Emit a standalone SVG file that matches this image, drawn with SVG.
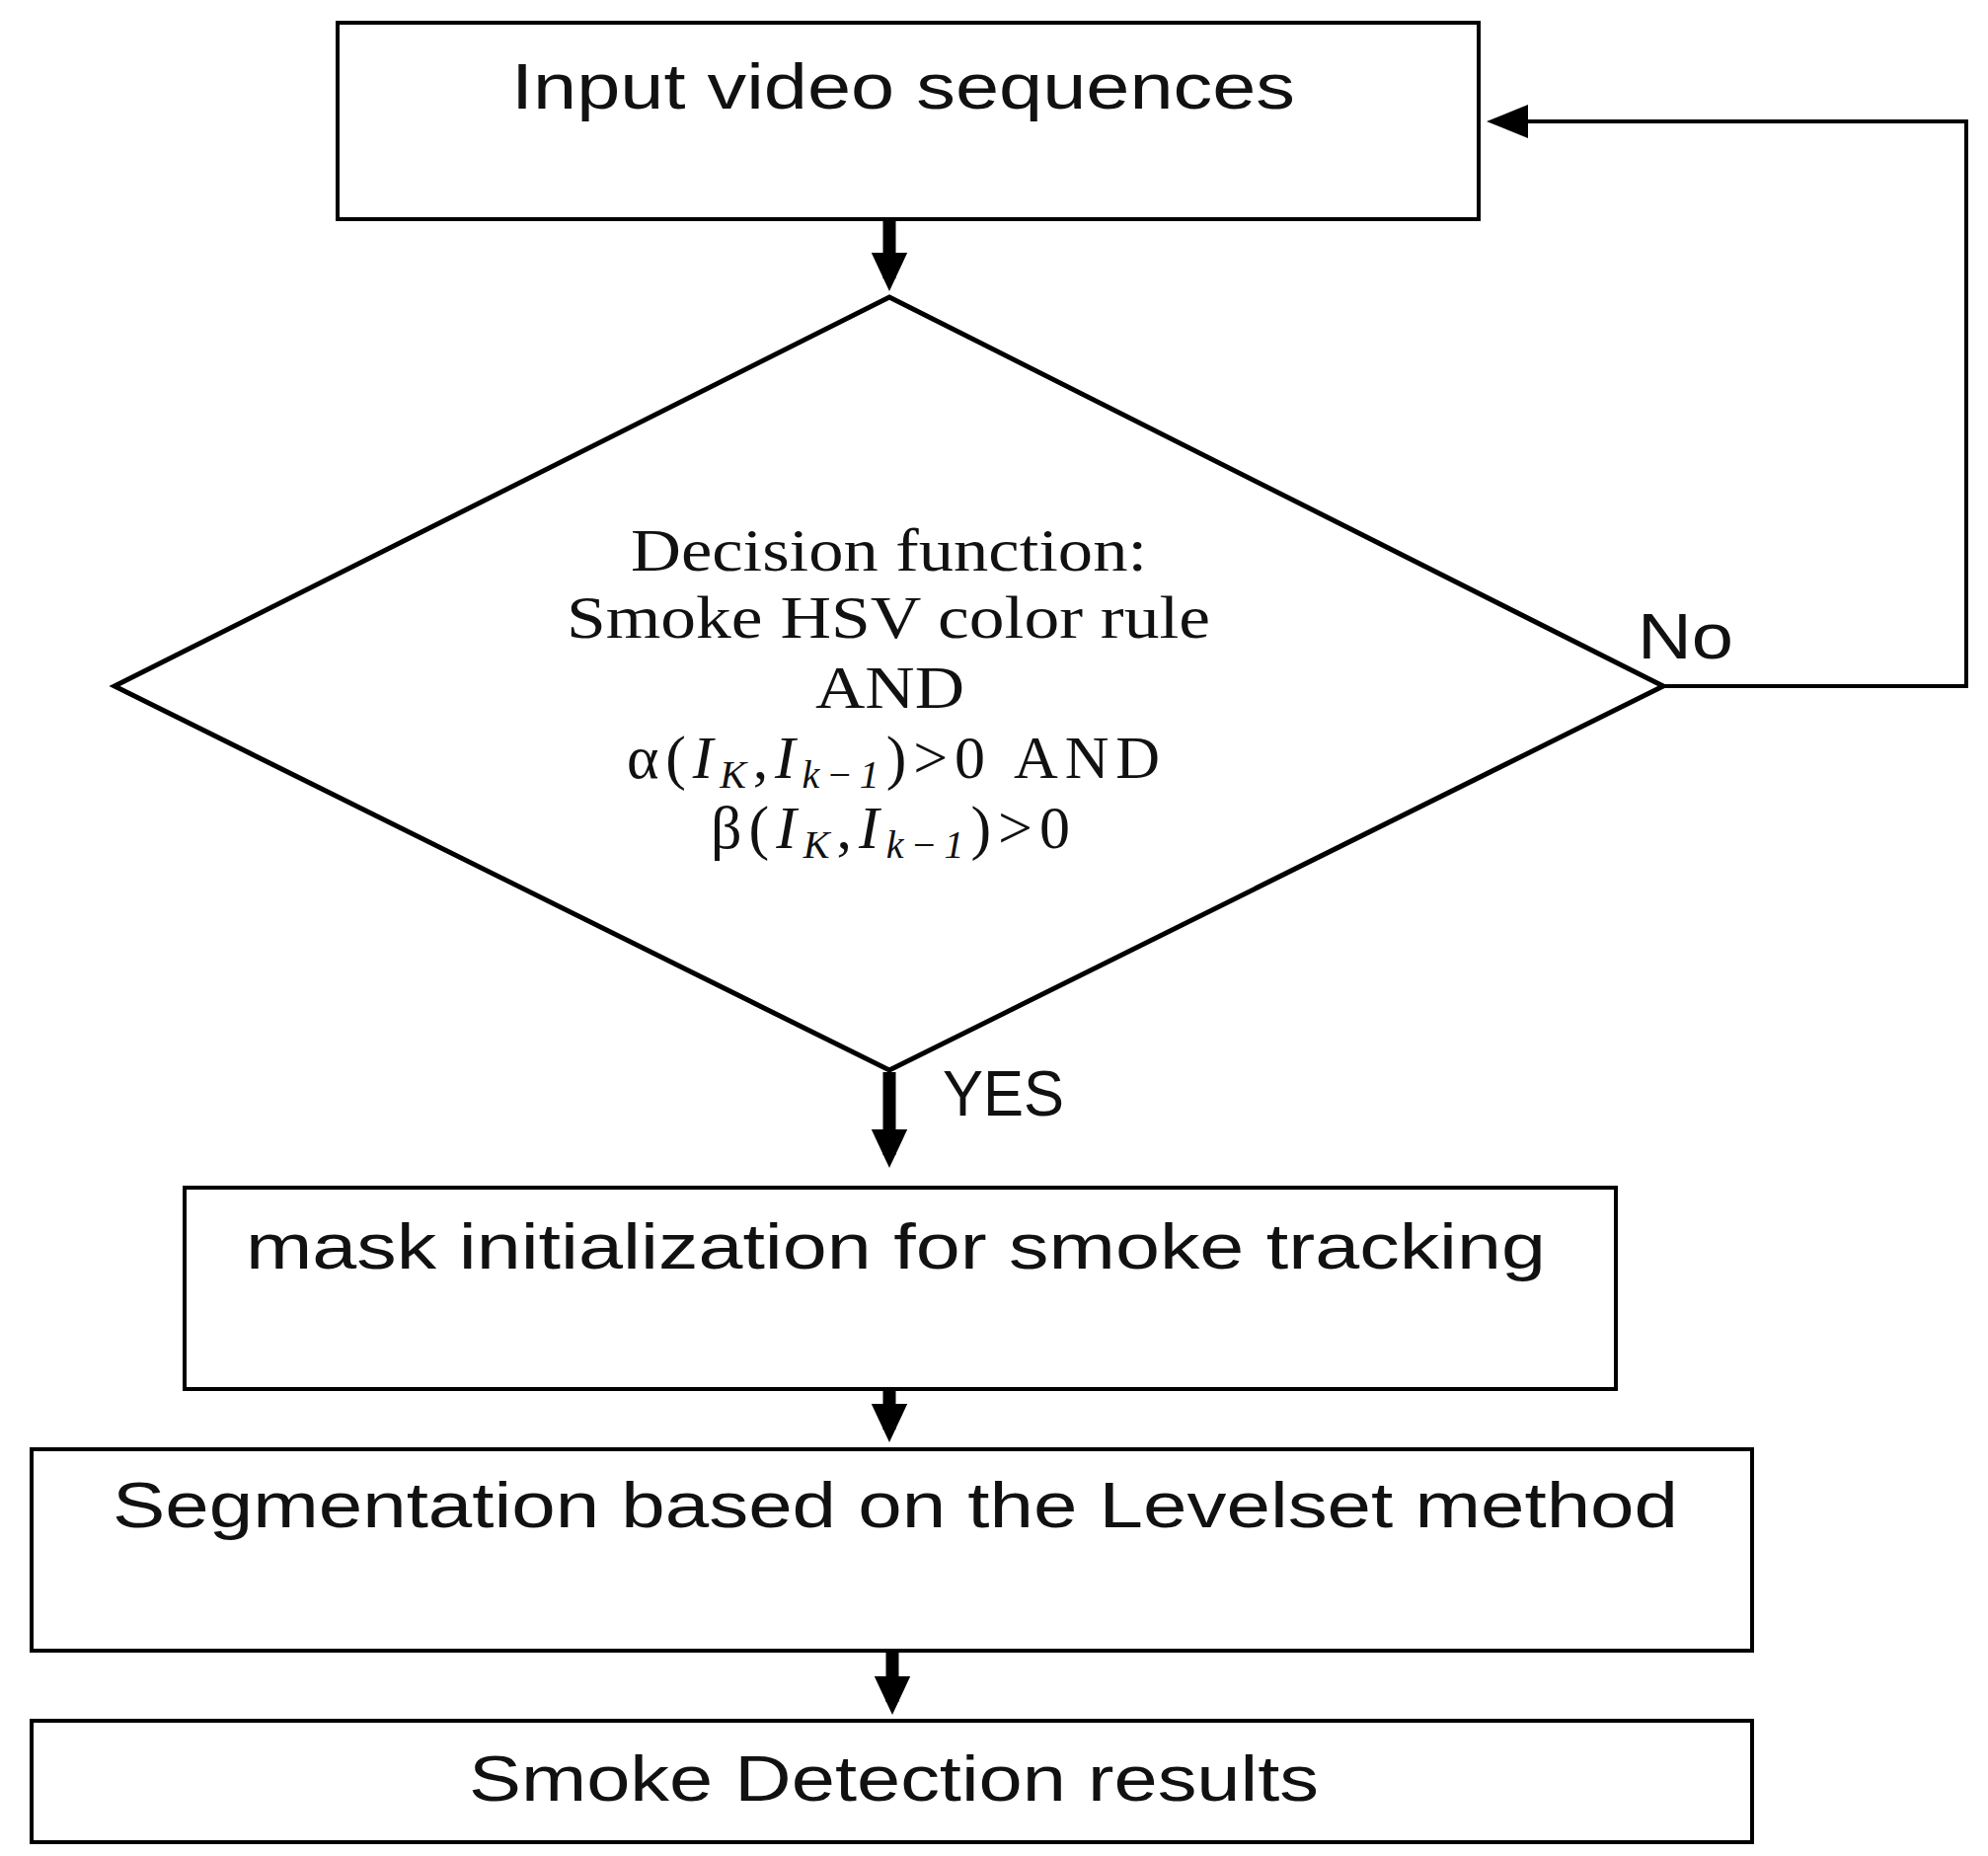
<svg xmlns="http://www.w3.org/2000/svg" width="2014" height="1880" viewBox="0 0 2014 1880">
<style>
.b{fill:#fff;stroke:#000;stroke-width:4}
.d{fill:#fff;stroke:#000;stroke-width:5}
.s{font-family:"Liberation Sans",Arial,sans-serif;font-size:64px;fill:#111}
.m{font-family:"Liberation Serif","Times New Roman",serif;font-size:62px;fill:#111}
.i{font-style:italic}
.sub{font-size:40px}
.thin{fill:none;stroke:#000;stroke-width:4}
.fat{stroke:#000;stroke-width:13}
</style>
<defs>
<marker id="h" markerWidth="4" markerHeight="4" refX="2" refY="2" orient="auto" markerUnits="strokeWidth"><path d="M0,0.6 L3,2 L0,3.4 Z" fill="#000"/></marker>
</defs>
<rect width="2014" height="1880" fill="#fff"/>
<g id="connectors">
<line class="fat" x1="901" y1="222" x2="901" y2="282" marker-end="url(#h)"/>
<line class="fat" x1="901" y1="1086" x2="901" y2="1170" marker-end="url(#h)"/>
<line class="fat" x1="901" y1="1407" x2="901" y2="1448" marker-end="url(#h)"/>
<line class="fat" x1="904" y1="1672" x2="904" y2="1724" marker-end="url(#h)"/>
<polyline class="thin" points="1685,695 1992,695 1992,123 1540,123"/>
<path d="M1506,123 L1548,106 L1548,140 Z" fill="#000"/>
<text class="s" x="955" y="1130" textLength="123" lengthAdjust="spacingAndGlyphs">YES</text>
<text class="s" x="1659" y="667" textLength="97" lengthAdjust="spacingAndGlyphs">No</text>
</g>
<g id="input">
<rect class="b" x="342" y="23" width="1156" height="199"/>
<text class="s" x="518" y="110" textLength="794" lengthAdjust="spacingAndGlyphs">Input video sequences</text>
</g>
<g id="decision">
<polygon class="d" points="901,301 1685,695 901,1084 116,695"/>
<text class="m" x="639" y="578" textLength="523" lengthAdjust="spacingAndGlyphs">Decision function:</text>
<text class="m" x="574" y="646" textLength="652" lengthAdjust="spacingAndGlyphs">Smoke HSV color rule</text>
<text class="m" x="826" y="717" textLength="151" lengthAdjust="spacingAndGlyphs">AND</text>
<text class="m" x="635" y="788" textLength="540" lengthAdjust="spacing">α(<tspan class="i">I</tspan><tspan class="i sub" dy="10">K</tspan><tspan dy="-10">,</tspan><tspan class="i">I</tspan><tspan class="i sub" dy="10">k−1</tspan><tspan dy="-10">)&gt;0 AND</tspan></text>
<text class="m" x="720" y="859" textLength="364" lengthAdjust="spacing">β(<tspan class="i">I</tspan><tspan class="i sub" dy="10">K</tspan><tspan dy="-10">,</tspan><tspan class="i">I</tspan><tspan class="i sub" dy="10">k−1</tspan><tspan dy="-10">)&gt;0</tspan></text>
</g>
<g id="mask">
<rect class="b" x="187" y="1203" width="1450" height="204"/>
<text class="s" x="249" y="1285" textLength="1317" lengthAdjust="spacingAndGlyphs">mask initialization for smoke tracking</text>
</g>
<g id="segmentation">
<rect class="b" x="32" y="1468" width="1743" height="204"/>
<text class="s" x="114" y="1547" textLength="1586" lengthAdjust="spacingAndGlyphs">Segmentation based on the Levelset method</text>
</g>
<g id="results">
<rect class="b" x="32" y="1743" width="1743" height="123"/>
<text class="s" x="475" y="1824" textLength="861" lengthAdjust="spacingAndGlyphs">Smoke Detection results</text>
</g>
</svg>
